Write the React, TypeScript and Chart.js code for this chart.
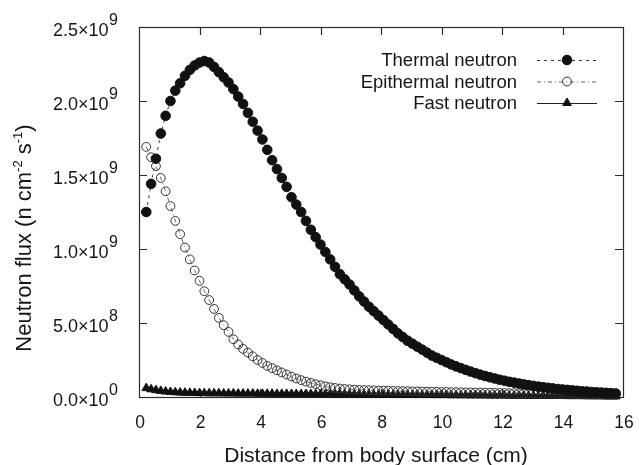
import React, { useEffect, useRef } from "react";
import { Chart, registerables } from "chart.js";

Chart.register(...registerables);

// Distance from body surface (cm)
const distanceCm = [
  0.24, 0.40, 0.56, 0.72, 0.88, 1.04, 1.20, 1.36, 1.52, 1.68, 1.84, 2.00,
  2.16, 2.32, 2.48, 2.64, 2.80, 2.96, 3.12, 3.28, 3.44, 3.60,
  3.76, 3.92, 4.08, 4.24, 4.40, 4.56, 4.72, 4.88, 5.04, 5.20,
  5.36, 5.52, 5.68, 5.84, 6.00, 6.16, 6.32, 6.48, 6.64, 6.80,
  6.96, 7.12, 7.28, 7.44, 7.60, 7.76, 7.92, 8.08, 8.24, 8.40,
  8.56, 8.72, 8.88, 9.04, 9.20, 9.36, 9.52, 9.68, 9.84, 10.00,
  10.16, 10.32, 10.48, 10.64, 10.80, 10.96, 11.12, 11.28, 11.44, 11.60,
  11.76, 11.92, 12.08, 12.24, 12.40, 12.56, 12.72, 12.88, 13.04, 13.20,
  13.36, 13.52, 13.68, 13.84, 14.00, 14.16, 14.32, 14.48, 14.64, 14.80,
  14.96, 15.12, 15.28, 15.44, 15.60, 15.76,
];

// Neutron flux, in units of 1e9 n cm^-2 s^-1
const thermalFlux = [
  1.25, 1.44, 1.61, 1.78, 1.90, 2.00, 2.07, 2.12, 2.17, 2.21, 2.24, 2.26,
  2.27, 2.26, 2.23, 2.195, 2.16, 2.125, 2.08, 2.03, 1.98, 1.92,
  1.86, 1.80, 1.74, 1.67, 1.60, 1.54, 1.48, 1.42, 1.35, 1.30,
  1.25, 1.19, 1.13, 1.08, 1.03, 0.98, 0.93, 0.88, 0.83, 0.795,
  0.76, 0.72, 0.68, 0.645, 0.61, 0.58, 0.55, 0.52, 0.49, 0.46,
  0.43, 0.405, 0.38, 0.36, 0.34, 0.32, 0.30, 0.28, 0.265, 0.25,
  0.235, 0.22, 0.207, 0.195, 0.183, 0.172, 0.161, 0.151, 0.142, 0.133,
  0.125, 0.117, 0.11, 0.103, 0.097, 0.091, 0.085, 0.08, 0.075, 0.07,
  0.066, 0.062, 0.058, 0.054, 0.051, 0.048, 0.045, 0.042, 0.039, 0.037,
  0.034, 0.032, 0.030, 0.028, 0.026, 0.024,
];

const epithermalFlux = [
  1.69, 1.62, 1.56, 1.48, 1.39, 1.29, 1.19, 1.10, 1.01, 0.93, 0.855, 0.785,
  0.715, 0.655, 0.595, 0.535, 0.485, 0.44, 0.39, 0.355, 0.325, 0.30,
  0.275, 0.25, 0.23, 0.21, 0.195, 0.18, 0.166, 0.152, 0.138, 0.125,
  0.114, 0.104, 0.095, 0.087, 0.079, 0.072, 0.066, 0.061, 0.057, 0.054,
  0.052, 0.050, 0.048, 0.047, 0.046, 0.045, 0.044, 0.043, 0.042, 0.041,
  0.040, 0.040, 0.039, 0.038, 0.038, 0.037, 0.036, 0.036, 0.035, 0.034,
  0.034, 0.033, 0.033, 0.032, 0.031, 0.031, 0.030, 0.030, 0.029, 0.029,
  0.028, 0.027, 0.027, 0.026, 0.026, 0.025, 0.025, 0.024, 0.024, 0.023,
  0.023, 0.022, 0.022, 0.021, 0.021, 0.020, 0.020, 0.019, 0.019, 0.018,
  0.018, 0.017, 0.017, 0.016, 0.016, 0.015,
];

const fastFlux = [
  0.060, 0.052, 0.046, 0.041, 0.037, 0.034, 0.032, 0.030, 0.029, 0.028, 0.027, 0.026,
  0.026, 0.025, 0.025, 0.025, 0.024, 0.024, 0.024, 0.023, 0.023, 0.023,
  0.023, 0.022, 0.022, 0.022, 0.022, 0.021, 0.021, 0.021, 0.021, 0.020,
  0.020, 0.020, 0.020, 0.019, 0.019, 0.019, 0.019, 0.018, 0.018, 0.018,
  0.018, 0.017, 0.017, 0.017, 0.017, 0.016, 0.016, 0.016, 0.016, 0.015,
  0.015, 0.015, 0.015, 0.014, 0.014, 0.014, 0.014, 0.013, 0.013, 0.013,
  0.013, 0.012, 0.012, 0.012, 0.012, 0.011, 0.011, 0.011, 0.011, 0.010,
  0.010, 0.010, 0.010, 0.009, 0.009, 0.009, 0.009, 0.008, 0.008, 0.008,
  0.008, 0.007, 0.007, 0.007, 0.007, 0.006, 0.006, 0.006, 0.006, 0.005,
  0.005, 0.005, 0.005, 0.004, 0.004, 0.004,
];

const seriesNames = ["Thermal neutron", "Epithermal neutron", "Fast neutron"];

const xTicks = [0, 2, 4, 6, 8, 10, 12, 14, 16];
const yTicks = [0, 0.5e9, 1.0e9, 1.5e9, 2.0e9, 2.5e9];
const yTickMantissa = ["0.0", "5.0", "1.0", "1.5", "2.0", "2.5"];
const yTickExponent = ["0", "8", "9", "9", "9", "9"];

const xTitle = "Distance from body surface (cm)";
const yTitleParts = [
  { t: "Neutron flux (n cm", sup: false },
  { t: "-2", sup: true },
  { t: " s", sup: false },
  { t: "-1", sup: true },
  { t: ")", sup: false },
];

const FONT = "'Liberation Sans', Arial, Helvetica, sans-serif";
const INK = "#161616";
const TICK = 8;

function drawMarker(ctx: any, style: string, x: number, y: number, r: number, fill: string, stroke: string, bw: number) {
  ctx.save();
  ctx.setLineDash([]);
  ctx.beginPath();
  if (style === "triangle") {
    let a = 0;
    ctx.moveTo(x + Math.sin(a) * r, y - Math.cos(a) * r);
    a += (2 * Math.PI) / 3;
    ctx.lineTo(x + Math.sin(a) * r, y - Math.cos(a) * r);
    a += (2 * Math.PI) / 3;
    ctx.lineTo(x + Math.sin(a) * r, y - Math.cos(a) * r);
    ctx.closePath();
  } else {
    ctx.arc(x, y, r, 0, Math.PI * 2);
  }
  ctx.fillStyle = fill;
  ctx.fill();
  ctx.lineWidth = bw;
  ctx.strokeStyle = stroke;
  ctx.stroke();
  ctx.restore();
}

const decorPlugin = {
  id: "decor",
  beforeDraw(chart: any) {
    const ctx = chart.ctx;
    ctx.save();
    ctx.fillStyle = "#ffffff";
    ctx.fillRect(0, 0, chart.width, chart.height);
    ctx.restore();
  },
  beforeDatasetsDraw(chart: any) {
    const ctx = chart.ctx;
    const a = chart.chartArea;
    const xs = chart.scales.x;
    const ys = chart.scales.y;
    ctx.save();
    ctx.strokeStyle = "#2b2b2b";
    ctx.lineWidth = 1.2;
    ctx.strokeRect(a.left + 0.5, a.top + 0.5, a.right - a.left, a.bottom - a.top);
    ctx.beginPath();
    xTicks.forEach((v, i) => {
      if (i === 0 || i === xTicks.length - 1) return;
      const px = Math.round(xs.getPixelForValue(v)) + 0.5;
      ctx.moveTo(px, a.bottom);
      ctx.lineTo(px, a.bottom - TICK);
      ctx.moveTo(px, a.top);
      ctx.lineTo(px, a.top + TICK);
    });
    yTicks.forEach((v, i) => {
      if (i === 0 || i === yTicks.length - 1) return;
      const py = Math.round(ys.getPixelForValue(v)) + 0.5;
      ctx.moveTo(a.left, py);
      ctx.lineTo(a.left + TICK, py);
      ctx.moveTo(a.right, py);
      ctx.lineTo(a.right - TICK, py);
    });
    ctx.stroke();
    ctx.restore();
  },
  afterDraw(chart: any) {
    const ctx = chart.ctx;
    const a = chart.chartArea;
    const xs = chart.scales.x;
    const ys = chart.scales.y;
    ctx.save();
    ctx.fillStyle = INK;

    // x tick labels
    ctx.font = `17.5px ${FONT}`;
    ctx.textAlign = "center";
    ctx.textBaseline = "middle";
    xTicks.forEach((v) => {
      ctx.fillText(String(v), xs.getPixelForValue(v) + 1, a.bottom + 26);
    });

    // y tick labels with superscript exponent
    const labelRight = a.left - 21;
    yTicks.forEach((v, i) => {
      const py = ys.getPixelForValue(v);
      ctx.font = `16px ${FONT}`;
      const supW = ctx.measureText(yTickExponent[i]).width;
      ctx.textAlign = "left";
      ctx.textBaseline = "middle";
      ctx.fillText(yTickExponent[i], labelRight - supW, py - 6);
      ctx.font = `18px ${FONT}`;
      ctx.textAlign = "right";
      ctx.fillText(yTickMantissa[i] + "\u00d710", labelRight - supW - 0.5, py + 4);
    });

    // x title
    ctx.font = `21px ${FONT}`;
    ctx.textAlign = "center";
    ctx.textBaseline = "middle";
    ctx.fillText(xTitle, (a.left + a.right) / 2 - 5, 456);

    // y title (rotated, with superscripts)
    ctx.save();
    ctx.translate(25, 238);
    ctx.rotate(-Math.PI / 2);
    const mainFont = `22px ${FONT}`;
    const supFont = `13px ${FONT}`;
    let total = 0;
    yTitleParts.forEach((p) => {
      ctx.font = p.sup ? supFont : mainFont;
      total += ctx.measureText(p.t).width;
    });
    let cx = -total / 2;
    ctx.textAlign = "left";
    ctx.textBaseline = "middle";
    yTitleParts.forEach((p) => {
      ctx.font = p.sup ? supFont : mainFont;
      ctx.fillText(p.t, cx, p.sup ? -7 : 0);
      cx += ctx.measureText(p.t).width;
    });
    ctx.restore();

    // legend
    const legendY = [60, 81.5, 103];
    const textRight = 517;
    const lineL = 537;
    const lineR = 597;
    chart.data.datasets.forEach((ds: any, i: number) => {
      const y = legendY[i];
      ctx.font = `18.5px ${FONT}`;
      ctx.textAlign = "right";
      ctx.textBaseline = "middle";
      ctx.fillStyle = INK;
      ctx.fillText(seriesNames[i], textRight, y + 1);
      ctx.save();
      ctx.strokeStyle = ds.borderColor;
      ctx.lineWidth = ds.borderWidth;
      ctx.setLineDash(ds.borderDash || []);
      ctx.beginPath();
      ctx.moveTo(lineL, y + 0.5);
      ctx.lineTo(lineR, y + 0.5);
      ctx.stroke();
      ctx.restore();
      drawMarker(ctx, ds.pointStyle, (lineL + lineR) / 2, y, ds.pointRadius, ds.pointBackgroundColor, ds.pointBorderColor, ds.pointBorderWidth);
    });

    ctx.restore();
  },
};

export default function App() {
  const canvasRef = useRef<HTMLCanvasElement | null>(null);

  useEffect(() => {
    const canvas = canvasRef.current;
    if (!canvas) return;
    const toPoints = (ys: number[]) => distanceCm.map((x, i) => ({ x, y: ys[i] * 1e9 }));
    const chart = new Chart(canvas, {
      type: "scatter",
      data: {
        datasets: [
          {
            label: seriesNames[0],
            data: toPoints(thermalFlux),
            showLine: true,
            borderColor: "#3a3a3a",
            borderWidth: 1,
            borderDash: [3, 4],
            pointStyle: "circle",
            pointRadius: 4.8,
            pointBackgroundColor: "#111111",
            pointBorderColor: "#111111",
            pointBorderWidth: 1,
            clip: false,
          },
          {
            label: seriesNames[1],
            data: toPoints(epithermalFlux),
            showLine: true,
            borderColor: "#666666",
            borderWidth: 1,
            borderDash: [4, 3, 1, 3],
            pointStyle: "circle",
            pointRadius: 4.4,
            pointBackgroundColor: "rgba(255,255,255,0)",
            pointBorderColor: "#333333",
            pointBorderWidth: 1,
            clip: false,
          },
          {
            label: seriesNames[2],
            data: toPoints(fastFlux),
            showLine: true,
            borderColor: "#222222",
            borderWidth: 1,
            borderDash: [],
            pointStyle: "triangle",
            pointRadius: 5,
            pointBackgroundColor: "#111111",
            pointBorderColor: "#111111",
            pointBorderWidth: 1,
            clip: false,
          },
        ],
      },
      options: {
        responsive: false,
        animation: false,
        events: [],
        layout: { padding: { left: 139, right: 16, top: 27, bottom: 68 } },
        scales: {
          x: { type: "linear", min: 0, max: 16, display: false },
          y: { type: "linear", min: 0, max: 2.5e9, display: false },
        },
        plugins: {
          legend: { display: false },
          tooltip: { enabled: false },
          title: { display: false },
        },
      },
      plugins: [decorPlugin],
    } as any);
    return () => chart.destroy();
  }, []);

  return (
    <div style={{ position: "fixed", left: 0, top: 0, width: 639, height: 465, background: "#fff" }}>
      <canvas ref={canvasRef} width={639} height={465} style={{ display: "block" }} />
    </div>
  );
}
